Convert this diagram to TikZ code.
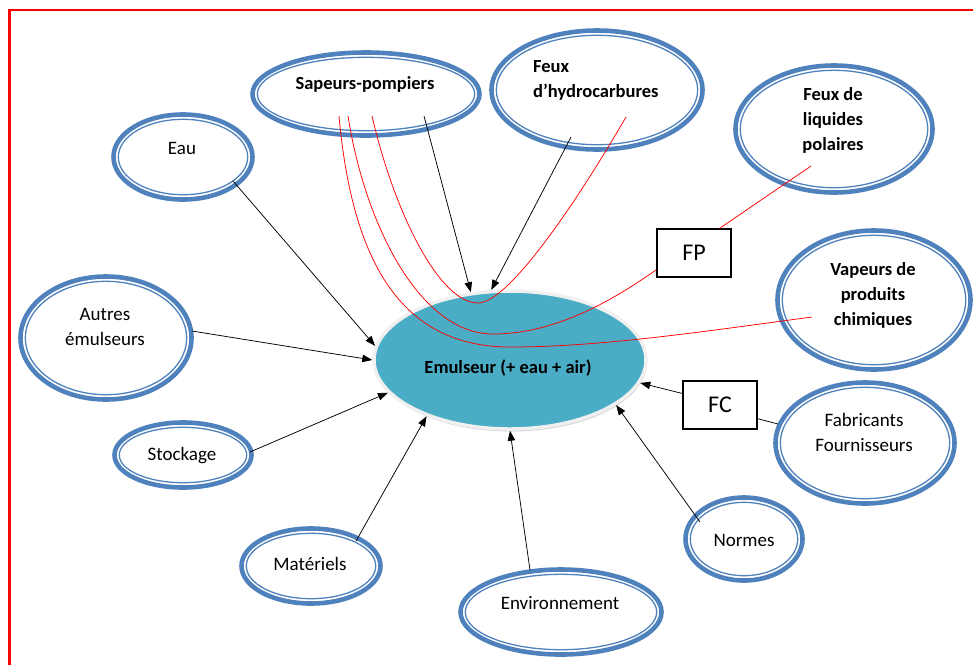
\documentclass[tikz,border=0pt]{standalone}
\usepackage{fontspec}
\setmainfont{Carlito}
\usetikzlibrary{shapes.geometric,arrows.meta,shadows}
\definecolor{ringblue}{HTML}{4F81BD}
\definecolor{hubfill}{HTML}{4BACC6}

\begin{document}
\begin{tikzpicture}[x=1pt, y=-1pt, line join=miter,
    ring/.style 2 args={ellipse, draw=ringblue, line width=4.6pt, minimum width=#1, minimum height=#2, inner sep=0pt,
        path picture={\draw[ringblue, line width=1.3pt] (path picture bounding box.center) ellipse [x radius={(#1/2-4.8)*1pt}, y radius={(#2/2-4.8)*1pt}];}},
    hub/.style={ellipse, fill=hubfill, draw=gray!12, line width=3.5pt, minimum width=272, minimum height=138,
        drop shadow={shadow xshift=1pt, shadow yshift=-2.5pt, opacity=0.35}},
    lbl/.style={font=\fontsize{19}{25}\selectfont, align=center, inner sep=0pt},
    lblb/.style={lbl, font=\fontsize{18.5}{25}\selectfont\bfseries},
    tagbox/.style={draw, line width=1.1pt, fill=white, minimum width=74, minimum height=48, inner sep=0pt, font=\fontsize{24}{28}\selectfont},
    link/.style={draw=black, line width=0.75pt, -{Triangle[length=10pt, width=7.5pt]}},
    tie/.style={draw=black, line width=0.75pt},
    redlink/.style={draw=red, line width=0.75pt}]

    \useasboundingbox (0,0) rectangle (973,665);
    \draw[red, line width=2.2pt] (9.5,665) -- (9.5,10.3) -- (973,10.3);

    % ellipses round the emulseur
    \node[ring={227}{83}] (pompiers) at (366,94) {};
    \node[ring={211}{119}] (hydro) at (597,90) {};
    \node[ring={197}{127}] (polaires) at (834,129) {};
    \node[ring={139}{85}] (eau) at (183,157) {};
    \node[ring={171}{123}] (autres) at (106,338) {};
    \node[ring={137}{65}] (stockage) at (183,455) {};
    \node[ring={139}{75}] (materiels) at (311,566) {};
    \node[ring={201}{85}] (environ) at (561,612) {};
    \node[ring={117}{83}] (normes) at (744,539) {};
    \node[ring={179}{121}] (fabricants) at (865,443) {};
    \node[ring={193}{139}] (vapeurs) at (874,300) {};

    \node[hub] (emul) at (510,360) {};

    \node[lblb] (pompiers-t) at (365,84) {Sapeurs-pompiers};
    \node[lblb, align=left, anchor=west] (hydro-t) at (533,80) {Feux\\d’hydrocarbures};
    \node[lblb] (polaires-t) at (833,120) {Feux de\\liquides\\polaires};
    \node[lbl] (eau-t) at (182,148) {Eau};
    \node[lbl] (autres-t) at (105,327) {Autres\\émulseurs};
    \node[lbl] (stockage-t) at (182,456) {Stockage};
    \node[lbl] (materiels-t) at (310,564) {Matériels};
    \node[lbl] (environ-t) at (560,603) {Environnement};
    \node[lbl] (normes-t) at (744,540) {Normes};
    \node[lbl] (fabricants-t) at (864,432) {Fabricants\\Fournisseurs};
    \node[lblb] (vapeurs-t) at (873,295) {Vapeurs de\\produits\\chimiques};
    \node[lblb] (emul-t) at (508,368) {Emulseur (+ eau + air)};

    % free ends inside the ellipses
    \coordinate (pompiers-a) at ([shift={(58,22)}]pompiers.center);
    \coordinate (hydro-a) at ([shift={(-26,47)}]hydro.center);
    \coordinate (eau-a) at ([shift={(50,24)}]eau.center);
    \coordinate (autres-a) at ([shift={(86,-7)}]autres.center);
    \coordinate (stockage-a) at ([shift={(67,-3)}]stockage.center);
    \coordinate (materiels-a) at ([shift={(45,-25)}]materiels.center);
    \coordinate (environ-a) at ([shift={(-31,-42)}]environ.center);
    \coordinate (normes-a) at ([shift={(-44,-17)}]normes.center);
    \coordinate (fabricants-a) at ([shift={(-87,-19)}]fabricants.center);
    \coordinate (pompiers-r1) at ([shift={(6,22)}]pompiers.center);
    \coordinate (pompiers-r2) at ([shift={(-18,22)}]pompiers.center);
    \coordinate (pompiers-r3) at ([shift={(-27,22)}]pompiers.center);
    \coordinate (hydro-r) at ([shift={(29,27)}]hydro.center);
    \coordinate (polaires-r) at ([shift={(-23,37)}]polaires.center);
    \coordinate (vapeurs-r) at ([shift={(-62,17)}]vapeurs.center);

    \node[tagbox] (fp) at (694,253) {FP};
    \node[tagbox] (fc) at (720,405) {FC};

    \draw[link] (pompiers-a) -- (emul.120);
    \draw[link] (hydro-a) -- (emul.105);
    \draw[link] (eau-a) -- (emul.174);
    \draw[link] (autres-a) -- (emul.180);
    \draw[link] (stockage-a) -- (emul.195);
    \draw[link] (materiels-a) -- (emul.214);
    \draw[link] (environ-a) -- (emul.270);
    \draw[link] (normes-a) -- (emul.-23);
    \draw[tie] (fabricants-a) -- (fc.-20);
    \draw[link] (fc.163) -- (emul.-10);

    % red paths
    \draw[redlink] (pompiers-r1) .. controls (395,215) and (440,303) .. (478,303)
        .. controls (508,303) and (575,205) .. (hydro-r);
    \draw[redlink] (pompiers-r2) .. controls (365,225) and (420,334) .. (493,334)
        .. controls (560,334) and (620,295) .. (fp.-156);
    \draw[redlink] (pompiers-r3) .. controls (352,260) and (400,347) .. (510,347)
        .. controls (600,347) and (700,332) .. (vapeurs-r);
    \draw[redlink] (fp.44) -- (polaires-r);
\end{tikzpicture}
\end{document}
